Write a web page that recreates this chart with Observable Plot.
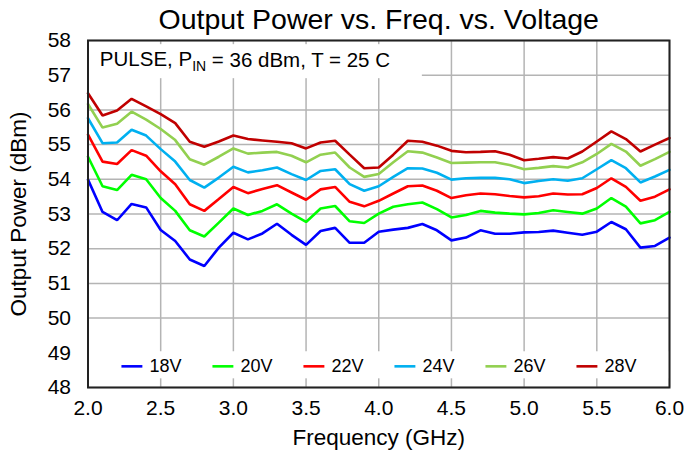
<!DOCTYPE html>
<html><head><meta charset="utf-8">
<script src="https://cdn.jsdelivr.net/npm/d3@7"></script>
<script src="https://cdn.jsdelivr.net/npm/@observablehq/plot@0.6"></script>
<style>body{margin:0;background:#fff;} svg{display:block}</style>
</head><body><div id="chart"></div><script>
const titleText = "Output Power vs. Freq. vs. Voltage";
const xLabel = "Frequency (GHz)";
const yLabel = "Output Power (dBm)";
const series = ["18V", "20V", "22V", "24V", "26V", "28V"];
const colors = ["#0000ff", "#00ff00", "#ff0000", "#00b0f0", "#92d050", "#c00000"];
const xTicks = [2.0, 2.5, 3.0, 3.5, 4.0, 4.5, 5.0, 5.5, 6.0];
const yTicks = [48, 49, 50, 51, 52, 53, 54, 55, 56, 57, 58];
const freqs = [2.0,2.1,2.2,2.3,2.4,2.5,2.6,2.7,2.8,2.9,3.0,3.1,3.2,3.3,3.4,3.5,3.6,3.7,3.8,3.9,4.0,4.1,4.2,4.3,4.4,4.5,4.6,4.7,4.8,4.9,5.0,5.1,5.2,5.3,5.4,5.5,5.6,5.7,5.8,5.9,6.0];
const v18 = [53.99,53.06,52.82,53.29,53.19,52.54,52.22, 51.69,51.50,52.03,52.46,52.27,52.44,52.72, 52.40,52.11,52.51,52.60,52.17,52.17, 52.49,52.55,52.60,52.71,52.53,52.24,52.32, 52.53,52.43,52.43,52.47,52.48,52.52,52.46, 52.40,52.49,52.77,52.56,52.03,52.08,52.32];
const v20 = [54.65,53.80,53.69,54.13,54.00,53.46,53.09, 52.53,52.35,52.75,53.16,52.97,53.09,53.28, 53.01,52.77,53.16,53.23,52.79,52.74, 53.01,53.21,53.28,53.33,53.14,52.90,52.97, 53.09,53.04,53.01,52.99,53.03,53.11,53.06, 53.01,53.16,53.46,53.21,52.73,52.82,53.06];
const v22 = [55.29,54.51,54.44,54.84,54.68,54.23,53.86, 53.28,53.09,53.43,53.78,53.60,53.72,53.83, 53.62,53.41,53.71,53.78,53.35,53.22, 53.38,53.59,53.80,53.82,53.67,53.46,53.54, 53.59,53.57,53.52,53.48,53.51,53.59,53.56, 53.57,53.75,54.03,53.78,53.38,53.50,53.71];
const v24 = [55.76,55.04,55.06,55.43,55.26,54.87,54.51, 53.98,53.76,54.05,54.36,54.20,54.26,54.34, 54.15,53.98,54.24,54.29,53.86,53.67, 53.80,54.07,54.32,54.31,54.19,53.99,54.03, 54.04,54.04,54.00,53.89,53.95,54.00,53.96, 54.03,54.29,54.55,54.32,53.91,54.08,54.27];
const v26 = [56.17,55.49,55.60,55.95,55.72,55.45,55.13, 54.58,54.42,54.65,54.89,54.74,54.77,54.79, 54.68,54.49,54.71,54.77,54.34,54.07, 54.15,54.49,54.81,54.77,54.63,54.47,54.48, 54.49,54.49,54.41,54.29,54.33,54.38,54.34, 54.49,54.73,55.02,54.80,54.39,54.58,54.79];
const v28 = [56.48,55.84,55.98,56.32,56.10,55.88,55.62, 55.08,54.94,55.09,55.26,55.16,55.12,55.08, 55.04,54.89,55.06,55.11,54.71,54.32, 54.34,54.71,55.11,55.08,54.97,54.82,54.78, 54.79,54.81,54.71,54.55,54.59,54.64,54.60, 54.80,55.09,55.38,55.16,54.80,55.00,55.19];
const allValues = [v18, v20, v22, v24, v26, v28];

const rows = [];
series.forEach((s, i) => allValues[i].forEach((v, j) => rows.push({f: freqs[j], p: v, s})));

// legend entries placed in data space along the bottom of the frame
const legend = series.map((s, i) => ({s, x0: 2.23 + i * 0.626, x1: 2.374 + i * 0.626, xt: 2.423 + i * 0.626, y: 48.61}));

const font = "'Liberation Sans', Arial, Helvetica, sans-serif";
const plot = Plot.plot({
  width: 686, height: 453,
  marginLeft: 87.5, marginRight: 17, marginTop: 40, marginBottom: 66,
  style: {fontFamily: font, fontSize: "18px", color: "#000", background: "#fff", overflow: "visible"},
  x: {domain: [2, 6]},
  y: {domain: [48, 58]},
  color: {domain: series, range: colors},
  marks: [
    Plot.gridX(xTicks, {stroke: "#b4b4b4", strokeOpacity: 1, strokeWidth: 1.5}),
    Plot.gridY(yTicks, {stroke: "#b4b4b4", strokeOpacity: 1, strokeWidth: 1.5}),
    Plot.rect([0], {x1: 2.0, x2: 4.30, y1: 56.90, y2: 57.88, fill: "white"}),
    Plot.rect([0], {x1: 2.0, x2: 6.0, y1: 48.25, y2: 49.03, fill: "white"}),
    Plot.line(rows, {x: "f", y: "p", z: "s", stroke: "s", strokeWidth: 2.6, strokeLinejoin: "miter"}),
    Plot.link(legend, {x1: "x0", x2: "x1", y1: "y", y2: "y", stroke: "s", strokeWidth: 2.6}),
    Plot.text(legend, {x: "xt", y: "y", text: "s", textAnchor: "start", fontSize: 18, fill: "#000"}),
    Plot.frame({stroke: "#222", strokeWidth: 2}),
    Plot.axisX(xTicks, {tickSize: 0, tickPadding: 13, fontSize: 21, tickFormat: d3.format(".1f"), label: null}),
    Plot.axisY(yTicks, {tickSize: 0, tickPadding: 17, fontSize: 21, label: null}),
    Plot.text([xLabel], {frameAnchor: "bottom", lineAnchor: "middle", dy: 50, fontSize: 22.5, fill: "#000"}),
    Plot.text([yLabel], {frameAnchor: "left", textAnchor: "middle", lineAnchor: "middle", dx: -69, rotate: -90, fontSize: 22.5, fill: "#000"}),
    Plot.text([titleText], {frameAnchor: "top", lineAnchor: "middle", dy: -21, fontSize: 28.5, fill: "#000"})
  ]
});

// annotation with subscript, positioned through the plot's own scales
const xs = plot.scale("x"), ys = plot.scale("y");
const ann = d3.select(plot).append("text")
  .attr("x", xs.apply(2.085)).attr("y", ys.apply(57.45))
  .attr("dy", "0.36em").attr("text-anchor", "start")
  .attr("font-family", font).attr("font-size", 20.5).attr("fill", "#000");
ann.append("tspan").text("PULSE, P");
ann.append("tspan").attr("font-size", 14).attr("dy", "0.3em").text("IN");
ann.append("tspan").attr("dy", "-0.2em").text(" = 36 dBm, T = 25 C");

document.getElementById("chart").appendChild(plot);
</script></body></html>
